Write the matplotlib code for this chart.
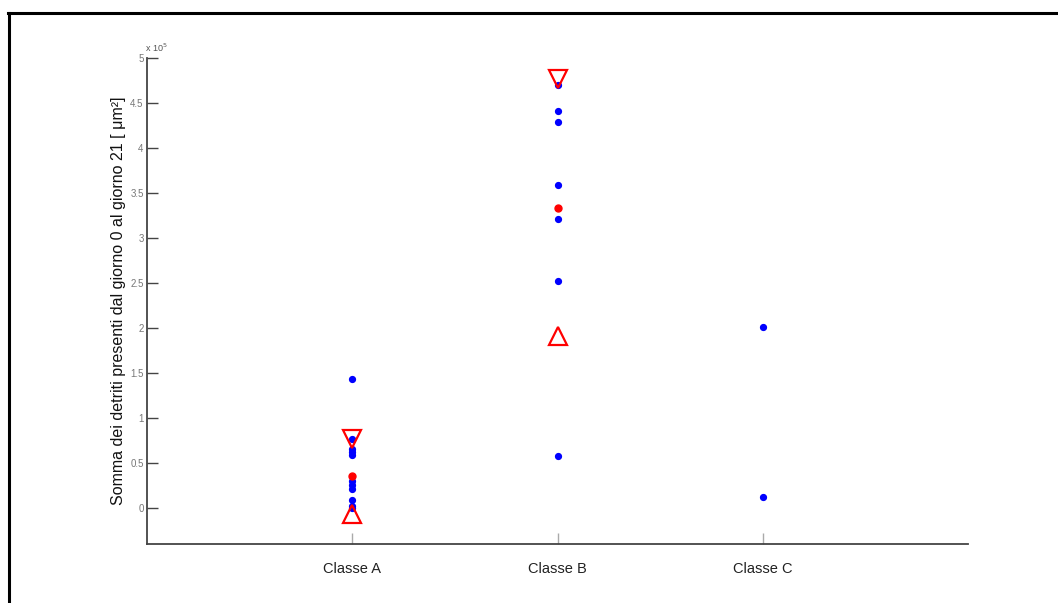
import matplotlib.pyplot as plt
from matplotlib.lines import Line2D

plt.rcParams['font.family'] = ['Liberation Sans', 'DejaVu Sans']

# Data (units of 1e5 um^2)
classes = ['Classe A', 'Classe B', 'Classe C']
class_a = [1.43, 0.77, 0.65, 0.62, 0.59, 0.30, 0.26, 0.21, 0.09, 0.02, 0.00]
class_b = [4.70, 4.41, 4.29, 3.59, 3.21, 2.52, 0.58]
class_c = [2.01, 0.12]
means = [0.35, 3.33]          # red dots (Classe A, Classe B)
upper = [0.77, 4.76]          # red down-triangles
lower = [-0.07, 1.91]         # red up-triangles

fig = plt.figure(figsize=(10.58, 6.03), dpi=100)
ax = fig.add_axes([0.139, 0.098, 0.776, 0.806])

groups = [class_a, class_b, class_c]
for i, vals in enumerate(groups):
    ax.plot([i + 1] * len(vals), vals, 'o', color='blue', markersize=4.2, linestyle='none')

stat_x = [1, 2]
ax.plot(stat_x, means, 'o', color='red', markersize=5, linestyle='none')
ax.plot(stat_x, upper, 'v', markerfacecolor='none', markeredgecolor='red',
        markeredgewidth=1.6, markersize=12.5, linestyle='none')
ax.plot(stat_x, lower, '^', markerfacecolor='none', markeredgecolor='red',
        markeredgewidth=1.6, markersize=12.5, linestyle='none')

ax.set_xlim(0, 4)
ax.set_ylim(-0.4, 5)
ax.set_xticks([1, 2, 3])
ax.set_xticklabels(classes, fontsize=10.5, color='#222222')
yt = [0, 0.5, 1, 1.5, 2, 2.5, 3, 3.5, 4, 4.5, 5]
ax.set_yticks(yt)
ax.set_yticklabels(['0', '0.5', '1', '1.5', '2', '2.5', '3', '3.5', '4', '4.5', '5'],
                   fontsize=7, color='#777777')
ax.tick_params(axis='y', direction='in', length=8, width=1, color='#444444', pad=2.5)
ax.tick_params(axis='x', direction='in', length=8, width=1, color='#aaaaaa', pad=13)

for s in ['top', 'right']:
    ax.spines[s].set_visible(False)
for s in ['left', 'bottom']:
    ax.spines[s].set_color('#444444')
    ax.spines[s].set_linewidth(1.3)

ax.set_ylabel('Somma dei detriti presenti dal giorno 0 al giorno 21 [ \u03bcm\u00b2]',
              fontsize=11.5, color='#111111', labelpad=3)
ax.text(-0.01, 5.04, r'x 10$^5$', transform=ax.transData, fontsize=6.5,
        color='#555555', ha='left', va='bottom')

# figure frame (top and left edges visible)
fig.add_artist(Line2D([8 / 1058, 1.0], [1 - 13 / 603, 1 - 13 / 603],
                      transform=fig.transFigure, color='black', linewidth=2.2))
fig.add_artist(Line2D([9 / 1058, 9 / 1058], [0.0, 1 - 13 / 603],
                      transform=fig.transFigure, color='black', linewidth=2.2))

fig.savefig('out.png', dpi=100)
